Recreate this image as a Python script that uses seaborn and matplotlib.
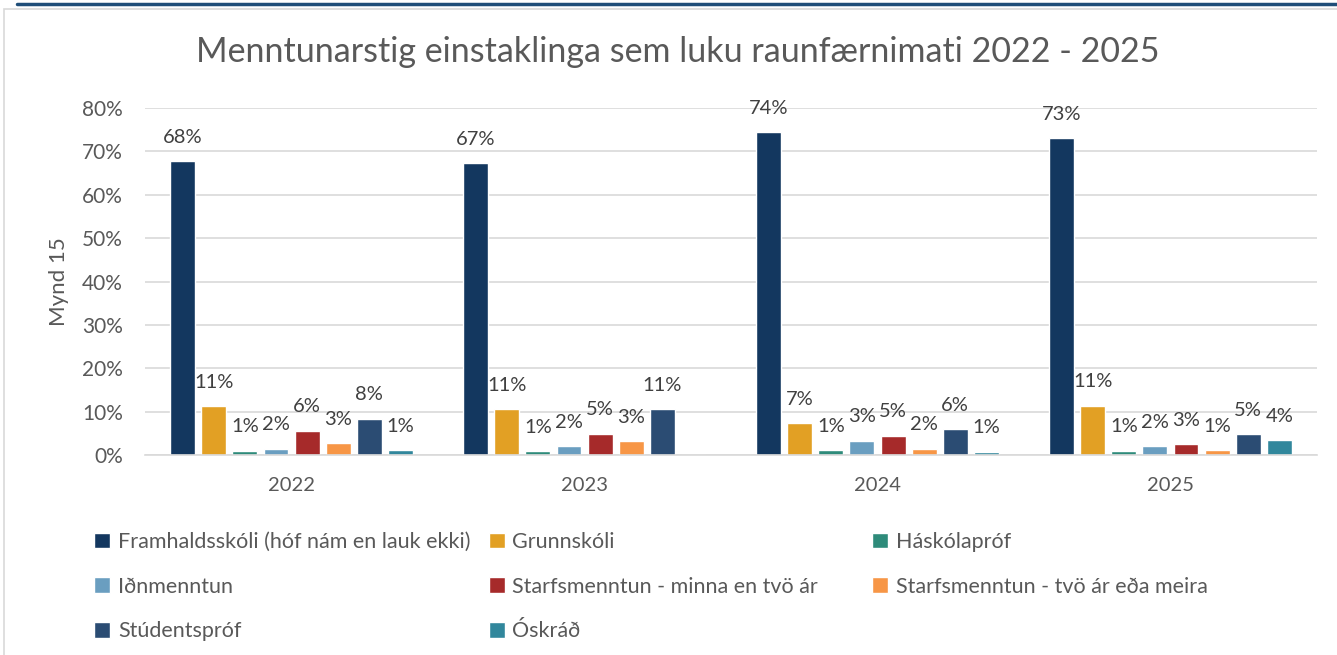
import numpy as np
import pandas as pd
import matplotlib
matplotlib.use("Agg")
import matplotlib.pyplot as plt
import seaborn as sns
from matplotlib.lines import Line2D
from matplotlib.patches import Rectangle

# Data (percent); 0 = no bar
years = ["2022", "2023", "2024", "2025"]
categories = [
    "Framhaldsskóli (hóf nám en lauk ekki)",
    "Grunnskóli",
    "Háskólapróf",
    "Iðnmenntun",
    "Starfsmenntun - minna en tvö ár",
    "Starfsmenntun - tvö ár eða meira",
    "Stúdentspróf",
    "Óskráð",
]
framhald = [67.8, 67.3, 74.4, 73.0]
grunn = [11.2, 10.5, 7.3, 11.4]
haskola = [1.0, 0.9, 1.2, 1.0]
idn = [1.5, 2.1, 3.3, 2.1]
starfs_minna = [5.6, 4.9, 4.5, 2.5]
starfs_tvo = [2.8, 3.2, 1.5, 1.1]
studentsprof = [8.4, 10.6, 6.0, 4.8]
oskrad = [1.1, 0.0, 0.8, 3.5]

colors = ["#13375F", "#E2A024", "#2E8B7A", "#6A9EC0",
          "#A62A2A", "#F79646", "#2B4C73", "#31879C"]

series = [framhald, grunn, haskola, idn, starfs_minna, starfs_tvo, studentsprof, oskrad]
rows = []
for cat, vals in zip(categories, series):
    for yr, v in zip(years, vals):
        rows.append({"year": yr, "category": cat, "value": v})
df = pd.DataFrame(rows)

sns.set_theme(style="white")
plt.rcParams["font.family"] = ["Lato", "DejaVu Sans"]
text_color = "#595959"

fig = plt.figure(figsize=(13.37, 6.55), dpi=100)
ax = fig.add_axes([0.1085, 0.3053, 0.8765, 0.5297])

sns.barplot(data=df, x="year", y="value", hue="category", hue_order=categories,
            order=years, palette=colors, width=0.85, gap=0.2, ax=ax,
            saturation=1, legend=True)

# data labels (Excel style half-up rounding)
for cont, vals in zip(ax.containers, series):
    labels = [f"{int(v + 0.5)}%" if v > 0 else "" for v in vals]
    ax.bar_label(cont, labels=labels, padding=11, fontsize=14.5, color="#404040")

ax.set_ylim(0, 80)
ax.set_yticks(range(0, 81, 10))
ax.set_yticklabels([f"{t}%" for t in range(0, 81, 10)], fontsize=15, color=text_color)
ax.tick_params(axis="x", labelsize=14.5, labelcolor=text_color, length=0, pad=16)
ax.tick_params(axis="y", length=0, pad=16)
ax.yaxis.grid(True, color="#D9D9D9", linewidth=1.2)
ax.set_axisbelow(True)
for side in ["top", "right", "left"]:
    ax.spines[side].set_visible(False)
ax.spines["bottom"].set_color("#D9D9D9")
ax.spines["bottom"].set_linewidth(1.2)
ax.set_xlabel("")
ax.set_ylabel("Mynd 15", fontsize=16, color=text_color, labelpad=9)

fig.suptitle("Menntunarstig einstaklinga sem luku raunfærnimati 2022 - 2025",
             x=0.507, y=0.945, fontsize=24.5, color=text_color)

# legend: three columns placed like the original, read row by row
handles, labels = ax.get_legend_handles_labels()
ax.get_legend().remove()
columns = [[0, 3, 6], [1, 4, 7], [2, 5]]
col_x = [0.064, 0.359, 0.646]
for idx, x0 in zip(columns, col_x):
    fig.legend([handles[i] for i in idx], [labels[i] for i in idx],
               loc="upper left", bbox_to_anchor=(x0, 0.201), ncol=1,
               frameon=False, fontsize=15.5, handlelength=0.75, handleheight=0.75,
               handletextpad=0.35, labelspacing=1.15, borderaxespad=0,
               labelcolor=text_color)

# frame decoration
fig.add_artist(Line2D([0.013, 1.0], [0.994, 0.994], color="#1F4E79",
                      linewidth=2.5, transform=fig.transFigure))
fig.add_artist(Rectangle((0.003, -0.01), 1.0, 0.997, fill=False,
                         edgecolor="#D9D9D9", linewidth=1.2,
                         transform=fig.transFigure))

fig.savefig("out.png", dpi=100)
